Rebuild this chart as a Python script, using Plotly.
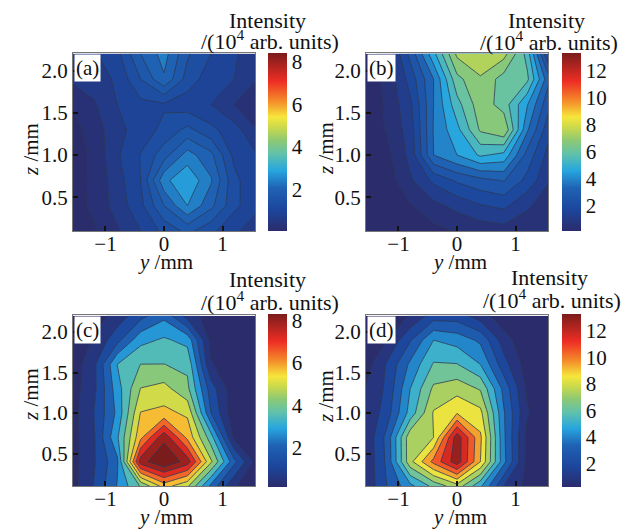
import plotly.graph_objects as go

y_vals = [-1.6, -1.2, -0.8, -0.4, 0.0, 0.4, 0.8, 1.2, 1.6]
z_vals = [0.1, 0.4, 0.7, 1.0, 1.3, 1.6, 1.9, 2.2]

panel_a = [
    [.15, .30, .65, 1.05, 1.50, 1.85, 1.50, 1.10, .90],
    [.20, .42, .85, 1.30, 2.10, 2.80, 2.20, 1.50, 1.10],
    [.15, .42, .90, 1.40, 2.70, 3.10, 2.50, 1.50, 1.10],
    [.15, .42, 1.00, 1.42, 1.95, 2.60, 2.20, 1.30, 1.05],
    [.20, .50, .95, 1.20, 1.50, 1.85, 1.50, 1.20, .70],
    [.35, .65, 1.05, 1.30, 1.35, 1.20, 1.05, .70, .30],
    [.75, .90, 1.10, 1.75, 2.40, 1.60, 1.20, 1.05, .70],
    [.75, 1.00, 1.30, 2.10, 2.60, 1.80, 1.40, 1.10, .80],
]
panel_b = [
    [.15, .15, .20, .45, .70, .90, 1.00, .90, .70],
    [.15, .15, .60, 1.10, 1.50, 1.90, 2.10, 1.40, .90],
    [.15, .30, 1.20, 2.10, 2.70, 3.05, 3.30, 2.40, 1.30],
    [.15, .45, 1.50, 3.90, 4.55, 5.30, 5.00, 3.00, 1.60],
    [.20, .70, 1.60, 3.95, 5.00, 6.60, 7.10, 4.00, 2.00],
    [.20, .75, 1.80, 3.90, 5.60, 6.90, 6.20, 4.60, 2.60],
    [.20, .80, 2.20, 3.90, 6.30, 7.05, 6.20, 6.00, 3.20],
    [.30, .90, 2.80, 5.00, 7.30, 7.80, 7.40, 5.60, 1.50],
]
panel_c = [
    [.30, 1.30, 2.60, 3.90, 5.40, 4.60, 2.40, .70, .20],
    [.30, 1.20, 2.40, 7.40, 8.30, 7.40, 4.60, 2.10, .30],
    [.30, 1.20, 3.10, 5.60, 7.50, 5.60, 3.50, .50, .20],
    [.30, 1.28, 2.70, 5.15, 5.30, 5.00, 1.95, .20, .20],
    [.30, 1.10, 2.90, 4.50, 4.70, 4.00, 1.60, .20, .20],
    [.20, 1.10, 3.20, 3.85, 3.85, 3.70, .70, .20, .20],
    [.20, .70, 1.70, 3.00, 3.30, 3.00, .45, .20, .20],
    [.20, .30, .90, 1.70, 2.40, 1.00, .30, .20, .20],
]
panel_d = [
    [1.00, 3.00, 4.70, 6.30, 7.60, 5.20, 2.00, .70, .20],
    [.95, 3.20, 7.70, 10.30, 12.60, 9.00, 4.30, .70, .20],
    [.95, 3.30, 7.70, 8.00, 12.60, 9.20, 4.20, .70, .20],
    [.95, 2.50, 5.40, 8.10, 8.95, 8.30, 4.10, 1.10, .20],
    [.90, 2.20, 5.00, 7.20, 7.60, 6.90, 3.70, .85, .20],
    [.40, 2.10, 4.20, 6.10, 6.05, 5.00, 2.40, .50, .20],
    [.20, 1.00, 2.90, 5.00, 4.60, 3.80, 1.50, .20, .20],
    [.20, .20, 1.10, 2.50, 2.50, 1.50, .30, .20, .20],
]
panel_names = ["(a)", "(b)", "(c)", "(d)"]
cbar_ticks_low = [2, 4, 6, 8]
cbar_ticks_high = [2, 4, 6, 8, 10, 12]
title_line1 = "Intensity"
title_line2 = "/(10<sup>4</sup> arb. units)"
x_title = "<i>y</i> /mm"
y_title = "<i>z</i> /mm"

W, H = 624, 529
FONT = "Liberation Serif"
FS = 21
scale = [
    [0.00, "#2b2c6c"], [0.12, "#1c469c"], [0.24, "#1f62b4"], [0.34, "#27a6df"],
    [0.43, "#5fc1ac"], [0.51, "#8ec973"], [0.58, "#c9d94c"], [0.64, "#f6e63c"],
    [0.73, "#f48c2a"], [0.84, "#ee2e24"], [1.00, "#7a1c1c"],
]
panels = [
    dict(z=panel_a, box=(73, 255, 53, 231), cb=(268, 53, 178), zr=(0.08, 8.4), step=0.35, ticks=cbar_ticks_low,
         tx=267, ty1=20, ty2=40, xt=(165, 262), yt=(31, 149)),
    dict(z=panel_b, box=(366, 548, 53, 231), cb=(562, 53, 178), zr=(0.15, 13.3), step=0.65, ticks=cbar_ticks_high,
         tx=546, ty1=20, ty2=41, xt=(459, 262), yt=(326, 149)),
    dict(z=panel_c, box=(73, 255, 315, 486), cb=(268, 314, 173), zr=(0.17, 8.3), step=0.64, ticks=cbar_ticks_low,
         tx=267, ty1=279, ty2=301, xt=(165, 517), yt=(31, 394)),
    dict(z=panel_d, box=(366, 548, 315, 486), cb=(562, 314, 173), zr=(0.24, 13.25), step=1.0, ticks=cbar_ticks_high,
         tx=549, ty1=277, ty2=299, xt=(459, 517), yt=(326, 397)),
]

fig = go.Figure()
annotations = []
font = dict(family=FONT, size=FS, color="#111")
big = dict(family=FONT, size=22, color="#111")
layout = {}
for i, p in enumerate(panels):
    n = "" if i == 0 else str(i + 1)
    xa, ya = "x" + n, "y" + n
    l, r, t, b = p["box"]
    fig.add_trace(go.Contour(
        x=y_vals, y=z_vals, z=p["z"], xaxis=xa, yaxis=ya, colorscale=scale,
        zmin=p["zr"][0], zmax=p["zr"][1], autocontour=False,
        contours=dict(start=p["step"], end=p["zr"][1], size=p["step"], coloring="fill"),
        line=dict(color="#2d3a55", width=0.8, smoothing=0), showscale=False, hoverinfo="skip",
    ))
    cx, ct, clen = p["cb"]
    fig.add_trace(go.Scatter(
        x=[None], y=[None], xaxis=xa, yaxis=ya, mode="markers", hoverinfo="skip",
        marker=dict(color=[p["zr"][0]], cmin=p["zr"][0], cmax=p["zr"][1], colorscale=scale, showscale=True,
                    colorbar=dict(
                        x=cx / W, xanchor="left", y=1 - ct / H, yanchor="top", lenmode="pixels", len=clen,
                        thicknessmode="pixels", thickness=19, xpad=0, ypad=0, outlinewidth=0,
                        tickmode="array", tickvals=p["ticks"], ticks="", ticklen=0,
                        tickfont=font)),
    ))
    layout["xaxis" + n] = dict(
        domain=[l / W, r / W], range=[-1.555, 1.555], anchor=ya, tickmode="array", tickvals=[-1, 0, 1],
        ticks="inside", ticklen=5, tickwidth=2, tickcolor="#111", tickfont=font, showgrid=False, zeroline=False,
        showline=True, mirror=True, linecolor="#777", linewidth=1, ticklabelstandoff=-6,
    )
    layout["yaxis" + n] = dict(
        domain=[1 - b / H, 1 - t / H], range=[0.1, 2.21], anchor=xa, tickmode="array", tickvals=[0.5, 1, 1.5, 2],
        tickformat=".1f", ticks="inside", ticklen=5, tickwidth=2, tickcolor="#111", tickfont=font, showgrid=False,
        zeroline=False, showline=True, mirror=True, linecolor="#777", linewidth=1,
    )
    annotations.append(dict(text=panel_names[i], xref="paper", yref="paper", x=(l + 1) / W, y=1 - (t + 1) / H,
                            xanchor="left", yanchor="top", showarrow=False, bgcolor="white", borderpad=1,
                            font=font))
    annotations.append(dict(text=title_line1, xref="paper", yref="paper", x=p["tx"] / W, y=1 - p["ty1"] / H,
                            xanchor="center", yanchor="middle", showarrow=False, font=big))
    annotations.append(dict(text=title_line2, xref="paper", yref="paper", x=(p["tx"] + 3) / W, y=1 - p["ty2"] / H,
                            xanchor="center", yanchor="middle", showarrow=False, font=big))
    annotations.append(dict(text=x_title, xref="paper", yref="paper", x=p["xt"][0] / W, y=1 - p["xt"][1] / H,
                            xanchor="center", yanchor="middle", showarrow=False, font=font))
    annotations.append(dict(text=y_title, xref="paper", yref="paper", x=p["yt"][0] / W, y=1 - p["yt"][1] / H,
                            xanchor="center", yanchor="middle", showarrow=False, textangle=-90, font=font))

fig.update_layout(width=W, height=H, margin=dict(l=0, r=0, t=0, b=0, autoexpand=False), paper_bgcolor="white",
                  plot_bgcolor="white", showlegend=False, annotations=annotations, **layout)
fig.write_html("out.html", post_script="document.body.style.margin='0';", config={"displayModeBar": False})
